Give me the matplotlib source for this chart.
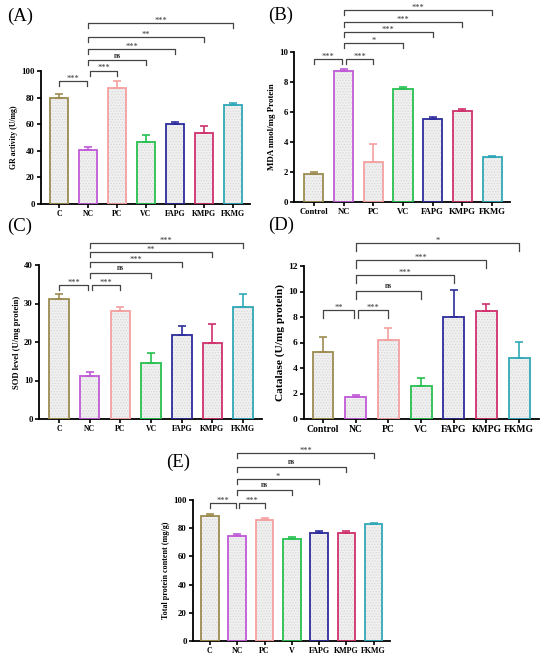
import matplotlib
matplotlib.use('Agg')
import matplotlib.pyplot as plt
import numpy as np

plt.rcParams['font.family'] = ['Liberation Serif', 'DejaVu Serif']
plt.rcParams['hatch.linewidth'] = 0.6

W, H = 550, 661

colors = ['#9c8c50', '#c05ad8', '#f4a0a0', '#28c050', '#2c2c9c', '#d0306c', '#30a8b8']

# (A) GR activity
a_groups = ['C', 'NC', 'PC', 'VC', 'FAPG', 'KMPG', 'FKMG']
a_mean = [80.0, 40.3, 87.4, 46.4, 60.3, 53.5, 74.6]
a_top = [82.4, 42.9, 92.4, 51.6, 61.5, 58.5, 75.9]

# (B) MDA
b_groups = ['Control', 'NC', 'PC', 'VC', 'FAPG', 'KMPG', 'FKMG']
b_mean = [1.85, 8.75, 2.65, 7.55, 5.55, 6.1, 3.0]
b_top = [2.0, 8.9, 3.9, 7.7, 5.7, 6.17, 3.07]

# (C) SOD
c_groups = ['C', 'NC', 'PC', 'VC', 'FAPG', 'KMPG', 'FKMG']
c_mean = [31.2, 11.2, 28.0, 14.5, 21.9, 19.7, 29.2]
c_top = [32.4, 12.3, 29.1, 17.1, 24.1, 24.7, 32.4]

# (D) Catalase
d_groups = ['Control', 'NC', 'PC', 'VC', 'FAPG', 'KMPG', 'FKMG']
d_mean = [5.25, 1.7, 6.2, 2.6, 8.0, 8.45, 4.75]
d_top = [6.4, 1.9, 7.1, 3.25, 10.1, 9.05, 6.05]

# (E) Total protein
e_groups = ['C', 'NC', 'PC', 'V', 'FAPG', 'KMPG', 'FKMG']
e_mean = [88.9, 74.2, 86.0, 72.3, 76.8, 76.6, 82.7]
e_top = [89.8, 75.9, 87.2, 73.8, 78.3, 77.8, 83.9]

# comparisons (i, j, label)
a_sig = [(0, 1, '***'), (1, 2, '***'), (1, 3, 'ns'), (1, 4, '***'), (1, 5, '**'), (1, 6, '***')]
b_sig = [(0, 1, '***'), (1, 2, '***'), (1, 3, '*'), (1, 4, '***'), (1, 5, '***'), (1, 6, '***')]
c_sig = [(0, 1, '***'), (1, 2, '***'), (1, 3, 'ns'), (1, 4, '***'), (1, 5, '**'), (1, 6, '***')]
d_sig = [(0, 1, '**'), (1, 2, '***'), (1, 3, 'ns'), (1, 4, '***'), (1, 5, '***'), (1, 6, '*')]
e_sig = [(0, 1, '***'), (1, 2, '***'), (1, 3, 'ns'), (1, 4, '*'), (1, 5, 'ns'), (1, 6, '***')]

fig = plt.figure(figsize=(W / 100, H / 100), dpi=100)
fig.patch.set_facecolor('white')


def make_axes(left, ytop, ybot, spacing, loff=0.62, roff=0.6):
    width = (6 + loff + roff) * spacing
    ax = fig.add_axes([left / W, 1 - ybot / H, width / W, (ybot - ytop) / H])
    ax.set_xlim(-loff, 6 + roff)
    return ax


def draw(ax, groups, mean, top, ymax, ystep, ylabel, sig, levels, tick_len,
         xfs=6.0, yfs=6.3, lfs=6.0):
    x = np.arange(len(groups))
    ax.bar(x, mean, width=0.64, color='#f0f0f0', edgecolor='#d8d8d8',
           hatch='......', linewidth=0, zorder=1)
    ax.bar(x, mean, width=0.64, facecolor='none', edgecolor=colors,
           linewidth=1.3, zorder=3)
    for i in range(len(groups)):
        ax.errorbar(x[i], mean[i], yerr=[[0], [top[i] - mean[i]]], fmt='none',
                    ecolor=colors[i], elinewidth=1.2, capsize=3.2, capthick=1.2,
                    zorder=2)
    ax.set_ylim(0, ymax)
    ax.set_yticks(np.arange(0, ymax + ystep / 2, ystep))
    ax.set_xticks(x)
    ax.set_xticklabels(groups, fontweight='bold', fontsize=xfs)
    for lab in ax.get_yticklabels():
        lab.set_fontweight('bold')
        lab.set_fontsize(yfs)
    ax.set_ylabel(ylabel, fontweight='bold', fontsize=lfs, labelpad=2)
    for s in ['top', 'right']:
        ax.spines[s].set_visible(False)
    for s in ['left', 'bottom']:
        ax.spines[s].set_linewidth(1.3)
    ax.tick_params(axis='both', direction='out', length=3, width=1.2, pad=1.5)
    for (i, j, lab), lev in zip(sig, levels):
        x0 = i + (0.07 if i == 1 and j == 2 else 0)
        x1 = j - (0.05 if i == 0 else 0)
        ax.plot([x0, x0, x1, x1], [lev - tick_len, lev, lev, lev - tick_len],
                color='#444444', lw=0.9, clip_on=False, zorder=4)
        off = 0.006 * ymax if lab == 'ns' else -0.012 * ymax
        ax.text((x0 + x1) / 2, lev + off, lab, ha='center', va='bottom',
                fontsize=5.5 if lab == 'ns' else 6, color='#333333',
                fontweight='bold' if lab == 'ns' else 'normal', clip_on=False)


axA = make_axes(41, 71, 204, 29.0)
draw(axA, a_groups, a_mean, a_top, 100, 20, 'GR activity (U/mg)', a_sig,
     [92.5, 100.3, 108, 116.5, 125.5, 136], 3.8, xfs=5.6, lfs=5.6)

axB = make_axes(294, 52, 202, 29.7, loff=0.67)
draw(axB, b_groups, b_mean, b_top, 10, 2, 'MDA nmol/mg Protein', b_sig,
     [9.55, 9.55, 10.6, 11.33, 12.0, 12.8], 0.33, xfs=6.2, lfs=6.4)

axC = make_axes(39, 265, 419, 30.7, loff=0.65)
draw(axC, c_groups, c_mean, c_top, 40, 10, 'SOD level (U/mg protein)', c_sig,
     [34.8, 34.8, 37.9, 40.7, 43.3, 45.6], 1.3, xfs=5.6, lfs=6.2)

axD = make_axes(304, 266, 419, 32.7, loff=0.58)
draw(axD, d_groups, d_mean, d_top, 12, 2, 'Catalase (U/mg protein)', d_sig,
     [8.55, 8.55, 10.04, 11.29, 12.47, 13.78], 0.6, xfs=6.9, yfs=6.8, lfs=8.2)

axE = make_axes(193, 500, 641, 27.3, loff=0.62)
draw(axE, e_groups, e_mean, e_top, 100, 20, 'Total protein content (mg/g)', e_sig,
     [97.6, 97.6, 107, 114.9, 123.3, 133], 3.5, xfs=5.8, lfs=5.9)

for lab, px, py in [('(A)', 7, 16), ('(B)', 268, 15), ('(C)', 7, 226),
                    ('(D)', 268, 225), ('(E)', 166, 462)]:
    fig.text(px / W, 1 - py / H, lab, fontsize=13.5, ha='left', va='center')

fig.savefig('out.png', dpi=100, facecolor='white')
